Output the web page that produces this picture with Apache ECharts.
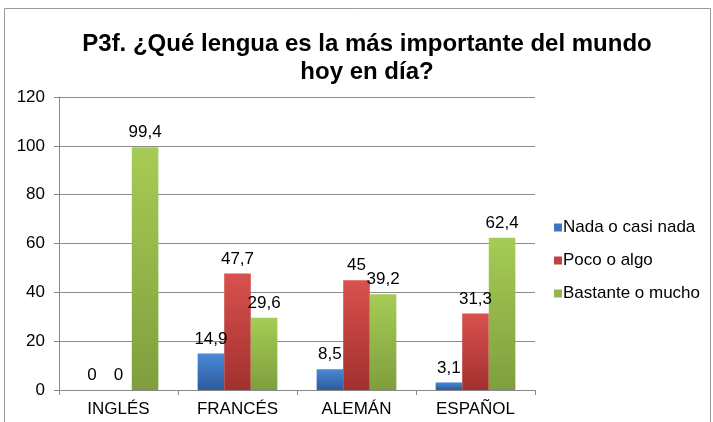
<!DOCTYPE html>
<html>
<head>
<meta charset="utf-8">
<script src="https://cdn.jsdelivr.net/npm/echarts@6/dist/echarts.min.js"></script>
<style>
  html, body { margin: 0; padding: 0; background: #fff; }
  #chart { width: 713px; height: 422px; }
</style>
</head>
<body>
<div id="chart"></div>
<script>
const categories = ['INGLÉS', 'FRANCÉS', 'ALEMÁN', 'ESPAÑOL']
const nada = [0, 14.9, 8.5, 3.1]
const poco = [0, 47.7, 45, 31.3]
const bastante = [99.4, 29.6, 39.2, 62.4]
const seriesNames = ['Nada o casi nada', 'Poco o algo', 'Bastante o mucho']

const chart = echarts.init(document.getElementById('chart'))
const font = 'Liberation Sans, Arial, sans-serif'

// degradado vertical tipo Excel 2007
function grad(top, bottom) {
  return new echarts.graphic.LinearGradient(0, 0, 0, 1, [
    { offset: 0, color: top },
    { offset: 1, color: bottom }
  ])
}

function bar(name, data, top, bottom) {
  return {
    name: name,
    type: 'bar',
    data: data,
    barGap: '0%',
    barCategoryGap: '33%',
    itemStyle: { color: grad(top, bottom) },
    label: {
      show: true,
      position: 'top',
      distance: 6,
      color: '#000',
      fontFamily: font,
      fontSize: 17,
      formatter: p => String(p.value).replace('.', ',')
    }
  }
}

chart.setOption({
  animation: false,
  title: {
    text: 'P3f. ¿Qué lengua es la más importante del mundo\nhoy en día?',
    left: 362,
    top: 25,
    textAlign: 'center',
    textStyle: {
      fontFamily: font,
      fontWeight: 'bold',
      fontSize: 24,
      lineHeight: 28,
      color: '#000'
    }
  },
  graphic: [
    {
      type: 'rect',
      shape: { x: 4.5, y: 8.5, width: 706, height: 420 },
      style: { fill: 'none', stroke: '#999', lineWidth: 1 }
    }
  ],
  legend: {
    orient: 'vertical',
    left: 549,
    top: 214,
    itemWidth: 8,
    itemHeight: 8,
    itemGap: 16,
    icon: 'rect',
    textStyle: {
      fontFamily: font,
      fontSize: 17,
      color: '#000',
      padding: [0, 0, 0, -4]
    },
    data: [
      { name: seriesNames[0], itemStyle: { color: '#3f76c2' } },
      { name: seriesNames[1], itemStyle: { color: '#c0413e' } },
      { name: seriesNames[2], itemStyle: { color: '#93b64c' } }
    ]
  },
  grid: { left: 59, right: 178, top: 97, bottom: 32, containLabel: false },
  xAxis: {
    type: 'category',
    data: categories,
    axisLine: { lineStyle: { color: '#888' } },
    axisTick: { show: true, length: 5, lineStyle: { color: '#888' } },
    axisLabel: {
      color: '#000',
      fontFamily: font,
      fontSize: 17,
      margin: 11
    }
  },
  yAxis: {
    type: 'value',
    min: 0,
    max: 120,
    interval: 20,
    axisLine: { show: true, lineStyle: { color: '#888' } },
    axisTick: { show: true, length: 5, lineStyle: { color: '#888' } },
    splitLine: { lineStyle: { color: '#8c8c8c' } },
    axisLabel: {
      color: '#000',
      fontFamily: font,
      fontSize: 17,
      margin: 14
    }
  },
  series: [
    bar(seriesNames[0], nada, '#4a88d8', '#2d5c9c'),
    bar(seriesNames[1], poco, '#d9514e', '#a2302e'),
    bar(seriesNames[2], bastante, '#a6cc55', '#7f9e3e')
  ]
})
</script>
</body>
</html>
